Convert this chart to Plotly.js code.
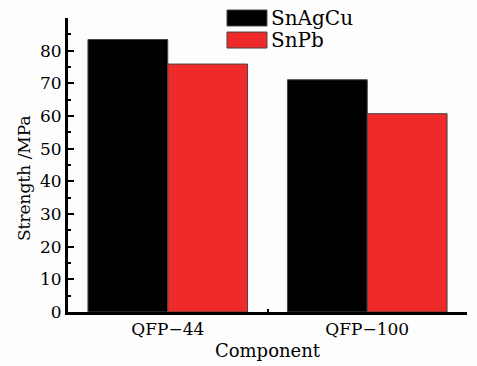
<!DOCTYPE html>
<html>
<head>
<meta charset="utf-8">
<script src="https://cdn.plot.ly/plotly-3.0.1.min.js"></script>
<style>html,body{margin:0;padding:0;background:#fdfdfd;}#chart{width:477px;height:366px;}</style>
</head>
<body>
<div id="chart"></div>
<script>
var categories = ["QFP\u221244", "QFP\u2212100"];
var seriesNames = ["SnAgCu", "SnPb"];
var snAgCu = [83.4, 71.1];
var snPb = [75.9, 60.7];
var seriesColors = ["#000000", "#ee2a2a"];
var yTickVals = [0, 10, 20, 30, 40, 50, 60, 70, 80];
var xTitle = "Component";
var yTitle = "Strength /MPa";

var FONT = "DejaVu Serif, serif";
var values = [snAgCu, snPb];
var traces = values.map(function (v, i) {
  return {
    type: "bar",
    x: categories,
    y: v,
    name: seriesNames[i],
    marker: {color: seriesColors[i], line: {color: "#444444", width: 1}},
    showlegend: false,
    hoverinfo: "none"
  };
});

// legend built from series names/colours
var shapes = [], annotations = [];
var lx0 = 0.3985, lx1 = 0.4987, ly = [1.0, 0.925], lh = 0.0272;
seriesNames.forEach(function (n, i) {
  shapes.push({type: "rect", xref: "paper", yref: "paper",
    x0: lx0, x1: lx1, y0: ly[i] - lh, y1: ly[i] + lh,
    fillcolor: seriesColors[i], line: {color: "#444444", width: 1}});
  annotations.push({xref: "paper", yref: "paper", x: lx1 + 0.006, y: ly[i],
    xanchor: "left", yanchor: "middle", showarrow: false, text: n,
    font: {family: FONT, size: 20, color: "#000"}});
});
annotations.push({xref: "paper", yref: "paper", x: -0.11, y: 0.456,
  xanchor: "center", yanchor: "middle", showarrow: false, textangle: -90,
  text: yTitle, font: {family: FONT, size: 17, color: "#000"}});

var layout = {
  width: 477, height: 366,
  margin: {l: 68, r: 10, t: 18, b: 54},
  paper_bgcolor: "#fdfdfd", plot_bgcolor: "#fdfdfd",
  barmode: "group", bargap: 0.2, bargroupgap: 0,
  font: {family: FONT, size: 17, color: "#000"},
  xaxis: {
    type: "category", range: [-0.5, 1.5],
    showline: true, linecolor: "#000", linewidth: 3,
    ticks: "inside", tickson: "boundaries", ticklen: 3, tickwidth: 2, tickcolor: "#000",
    showgrid: false, zeroline: false,
    tickfont: {family: FONT, size: 17, color: "#000"},
    title: {text: xTitle, font: {family: FONT, size: 18, color: "#000"}, standoff: 6}
  },
  yaxis: {
    range: [0, 90], tickvals: yTickVals,
    showline: true, linecolor: "#000", linewidth: 3,
    ticks: "inside", ticklen: 6, tickwidth: 2, tickcolor: "#000",
    minor: {dtick: 5, ticks: "inside", ticklen: 3, tickwidth: 2, tickcolor: "#000", showgrid: false},
    showgrid: false, zeroline: false,
    tickfont: {family: FONT, size: 17, color: "#000"}
  },
  shapes: shapes,
  annotations: annotations
};

Plotly.newPlot("chart", traces, layout, {displayModeBar: false, staticPlot: true});
</script>
</body>
</html>
